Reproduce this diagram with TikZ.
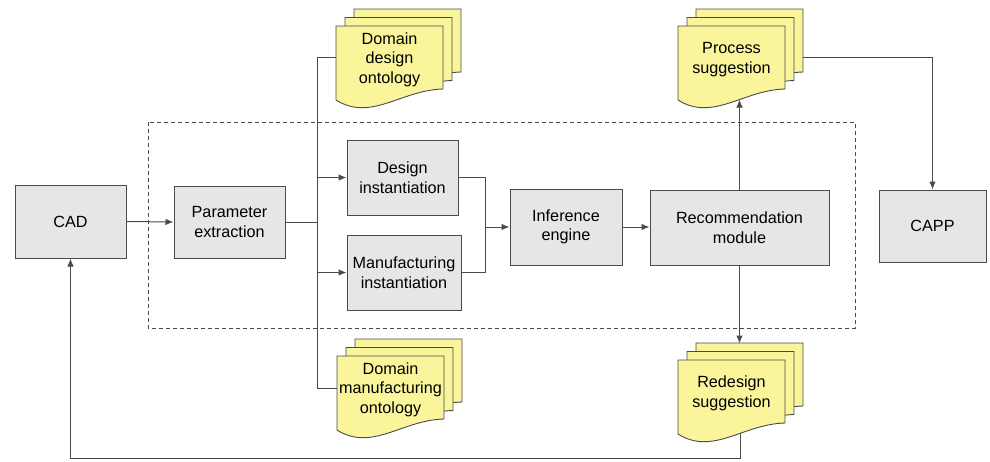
\documentclass[tikz,border=0pt]{standalone}
\usepackage{fontspec}
\setmainfont{Liberation Sans}
\usetikzlibrary{arrows.meta}

\definecolor{boxfill}{HTML}{E6E6E6}
\definecolor{docfill}{HTML}{FAF59B}
\definecolor{edge}{HTML}{4A4A4A}
\definecolor{ink}{HTML}{000000}

\tikzset{
  proc/.style={draw=edge, fill=boxfill, line width=1pt, align=center,
    inner sep=0pt, text=ink, font=\fontsize{16.2}{19.5}\selectfont},
  docnode/.style={minimum width=107pt, minimum height=63pt, inner sep=0pt,
    align=center, text=ink, font=\fontsize{16.2}{19.5}\selectfont},
  sheet/.style={draw=edge, fill=docfill, line width=0.9pt},
  link/.style={draw=edge, line width=1pt},
  arr/.style={link, -{Latex[length=8pt,width=6.5pt]}},
  frame/.style={draw=edge, line width=0.9pt, dash pattern=on 4pt off 3pt},
}

% A stack of three document sheets; #1 name, (#2,#3) top-left of the front sheet, #4 label
\newcommand\docstack[4]{%
  \foreach \k in {2,1,0} {
    \begin{scope}[shift={({#2+9*\k},{#3-8.5*\k})}]
      \path[sheet] (0,0) -- (107,0) -- (107,63)
        .. controls (65,64) and (35,96) .. (0,74) -- cycle;
    \end{scope}
  }
  \node[docnode] (#1) at ({#2+53.5},{#3+33.5}) {#4};
  \coordinate (#1-back) at ({#2+125},{#3+31});
  \coordinate (#1-wave) at ({#2+62},{#3+73.5});
}

\begin{document}
\begin{tikzpicture}[x=1pt, y=-1pt]
  \useasboundingbox (0,0) rectangle (990,461);

  % dashed frame around the reasoning core
  \draw[frame] (148,122) rectangle (855,328);

  % process boxes
  \node[proc, minimum width=111pt, minimum height=73pt] (cad)  at (70.5,221.5) {CAD};
  \node[proc, minimum width=111pt, minimum height=72pt] (pe)   at (229.5,222) {Parameter\\extraction};
  \node[proc, minimum width=111pt, minimum height=75pt] (di)   at (402.5,177.5) {Design\\instantiation};
  \node[proc, minimum width=114pt, minimum height=75pt] (mi)   at (404,272.5) {Manufacturing\\instantiation};
  \node[proc, minimum width=112pt, minimum height=76pt] (ie)   at (566,227) {Inference\\engine};
  \node[proc, minimum width=179pt, minimum height=75pt] (rec)  at (739.5,227.5) {Recommendation\\module};
  \node[proc, minimum width=107pt, minimum height=72pt] (capp) at (932.5,226) {CAPP};

  % document stacks
  \docstack{dd}{336}{26}{Domain\\design\\ontology}
  \docstack{dm}{337}{356}{Domain\\manufacturing\\ontology}
  \docstack{ps}{678}{26}{Process\\suggestion}
  \docstack{rs}{678}{360}{Redesign\\suggestion}

  % junction points
  \coordinate (jx) at (317,222);
  \coordinate (mx) at (485,227);
  \coordinate (rail) at (0,458);

  % connectors
  \draw[arr] (cad.east) -- (pe.west);
  \draw[link] (pe.east) -- (jx);
  \draw[link] (dd.west |- 0,57) -- (jx |- 0,57) -- (jx |- 0,388) -- (dm.west |- 0,388);
  \draw[arr] (jx |- di.west) -- (di.west);
  \draw[arr] (jx |- mi.west) -- (mi.west);
  \draw[link] (di.east) -- (di.east -| mx) -- (mi.east -| mx) -- (mi.east);
  \draw[arr] (mx |- ie.west) -- (ie.west);
  \draw[arr] (ie.east) -- (rec.west |- ie.east);
  \draw[arr] (rec.north) -- (rec.north |- ps-wave);
  \draw[arr] (rec.south) -- (rec.south |- 0,343.5);
  \draw[arr] (ps-back) -| (capp.north);
  \draw[arr] (rs-wave) -- (rs-wave |- rail) -- (cad.south |- rail) -- (cad.south);
\end{tikzpicture}
\end{document}
